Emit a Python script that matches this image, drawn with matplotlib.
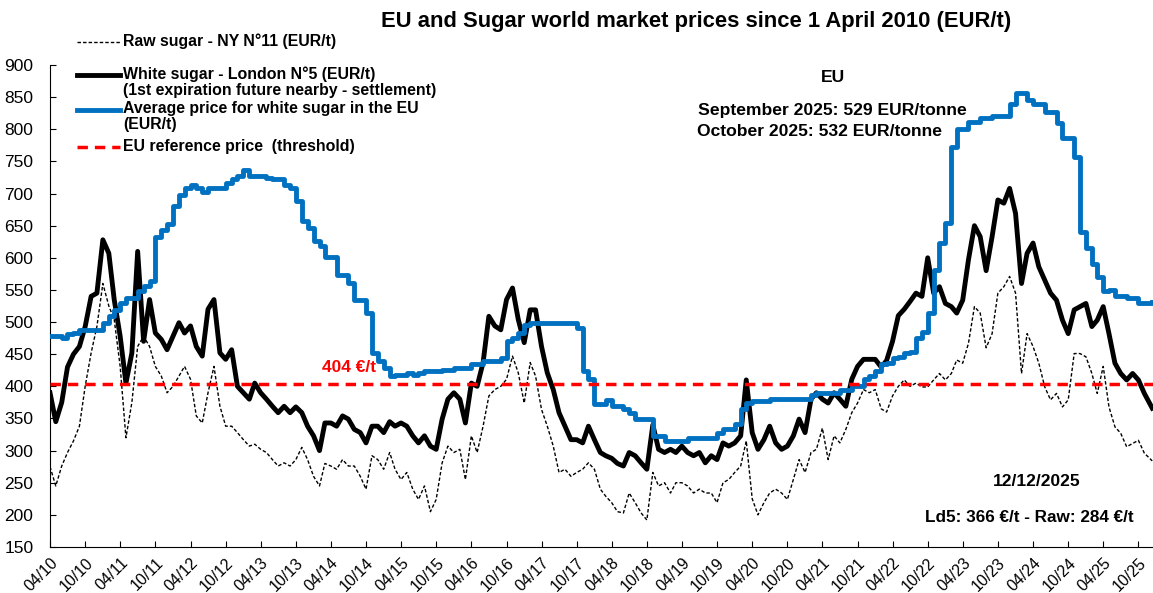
import pandas as pd
import matplotlib
matplotlib.use("Agg")
import matplotlib.pyplot as plt
import matplotlib.dates as mdates
from matplotlib.lines import Line2D

plt.rcParams["font.family"] = ["Liberation Sans", "DejaVu Sans"]

# monthly readings from April 2010, last point = 12/12/2025
dates = list(pd.date_range("2010-04-01", "2025-11-01", freq="MS")) + [pd.Timestamp("2025-12-12")]

white_sugar = [390, 345, 375, 430, 450, 462, 493, 540, 545, 628,
               607, 535, 478, 405, 452, 610, 470, 535, 483, 473,
               457, 478, 499, 483, 494, 462, 447, 520, 535, 452,
               442, 457, 400, 390, 380, 405, 390, 380, 369, 359,
               369, 359, 368, 359, 338, 323, 300, 343, 343, 338,
               354, 349, 333, 328, 312, 338, 338, 328, 345, 338,
               343, 338, 323, 312, 323, 307, 302, 349, 380, 390,
               380, 343, 405, 400, 437, 509, 494, 488, 535, 553,
               504, 468, 519, 519, 462, 421, 395, 359, 338, 317,
               317, 312, 338, 317, 297, 292, 288, 280, 276, 297,
               292, 281, 271, 340, 302, 297, 302, 297, 307, 297,
               292, 297, 281, 292, 286, 312, 307, 312, 323, 410,
               328, 302, 317, 338, 312, 302, 307, 323, 349, 328,
               380, 390, 380, 374, 390, 380, 369, 411, 431, 442,
               442, 442, 430, 440, 470, 510, 520, 532, 545, 540,
               600, 545, 555, 529, 524, 514, 534, 597, 650, 633,
               580, 633, 690, 685, 708, 669, 560, 607, 623, 586,
               565, 545, 534, 503, 482, 519, 524, 529, 493, 503,
               524, 482, 436, 420, 410, 420, 410, 389, 366]

raw_sugar = [275, 245, 276, 297, 315, 338, 400, 452, 493, 560,
             525, 504, 431, 320, 375, 462, 478, 462, 431, 416,
             390, 400, 416, 431, 411, 354, 343, 390, 431, 369,
             338, 338, 328, 317, 307, 310, 302, 297, 286, 276,
             281, 276, 286, 305, 286, 260, 245, 280, 276, 271,
             286, 276, 276, 260, 240, 292, 286, 271, 297, 271,
             255, 266, 240, 224, 245, 205, 224, 281, 307, 297,
             302, 255, 323, 297, 338, 385, 395, 400, 411, 447,
             421, 374, 437, 416, 364, 338, 307, 266, 271, 260,
             266, 271, 281, 271, 240, 229, 219, 205, 203, 234,
             219, 203, 192, 266, 245, 250, 234, 250, 250, 245,
             234, 240, 234, 234, 219, 250, 255, 266, 276, 315,
             225, 200, 219, 234, 240, 234, 224, 255, 286, 266,
             297, 302, 335, 286, 323, 312, 333, 359, 374, 395,
             390, 395, 365, 360, 385, 400, 410, 400, 405, 399,
             399, 410, 420, 410, 420, 441, 436, 467, 524, 514,
             460, 482, 545, 555, 571, 545, 420, 482, 462, 436,
             399, 379, 389, 368, 379, 451, 451, 446, 420, 389,
             431, 368, 337, 327, 306, 311, 316, 296, 284]

eu_price = [478, 478, 475, 481, 483, 487, 487, 487, 487, 499,
            509, 519, 530, 538, 538, 548, 556, 564, 633, 644,
            652, 680, 698, 709, 714, 709, 703, 709, 709, 709,
            716, 722, 727, 737, 727, 727, 727, 724, 722, 722,
            714, 709, 688, 657, 646, 626, 618, 602, 602, 574,
            574, 561, 535, 535, 514, 452, 440, 428, 416, 418,
            418, 421, 418, 421, 424, 424, 424, 426, 426, 429,
            429, 429, 434, 434, 439, 439, 439, 444, 470, 475,
            483, 496, 499, 499, 499, 499, 499, 499, 499, 499,
            491, 424, 411, 372, 372, 378, 369, 369, 364, 359,
            349, 349, 349, 323, 323, 315, 315, 315, 315, 320,
            320, 320, 320, 320, 328, 334, 334, 341, 365, 374,
            377, 377, 377, 380, 380, 380, 380, 380, 380, 380,
            387, 390, 390, 390, 390, 395, 395, 400, 400, 411,
            416, 424, 434, 436, 444, 446, 452, 454, 475, 485,
            514, 581, 623, 654, 773, 801, 801, 812, 812, 817,
            817, 820, 820, 820, 840, 856, 856, 846, 840, 840,
            827, 827, 809, 786, 786, 757, 640, 615, 590, 570,
            548, 550, 540, 540, 537, 537, 529, 529, 532]

ref_price = 404

W, H = 1153, 593


def fx(px):
    return px / W


def fy(py):
    return 1 - py / H


fig = plt.figure(figsize=(W / 100, H / 100), dpi=100)
ax = fig.add_axes([fx(50), fy(547), fx(1153) - fx(50), fy(65) - fy(547)])

raw_style = dict(color="black", lw=1.0, ls=(0, (2.5, 1.5)))
white_style = dict(color="black", lw=3.5)
eu_style = dict(color="#0070C0", lw=3.5)
ref_style = dict(color="#FF0000", lw=2.5, ls=(0, (3, 2)))

ax.plot(dates, raw_sugar, zorder=2, **raw_style)
ax.plot(dates, white_sugar, zorder=3, **white_style)
ax.step(dates, eu_price, where="post", zorder=4, **eu_style)
ax.axhline(ref_price, zorder=5, **ref_style)

ax.set_ylim(150, 900)
ax.set_yticks(range(150, 901, 50))
ax.set_xlim(pd.Timestamp("2010-04-01"), pd.Timestamp("2025-12-16"))
ax.xaxis.set_major_locator(mdates.MonthLocator(bymonth=[4, 10]))
ax.xaxis.set_major_formatter(mdates.DateFormatter("%m/%y"))
ax.tick_params(direction="in", length=4)
ax.tick_params(axis="y", labelsize=12.5, pad=12)
ax.tick_params(axis="x", labelsize=11.5, pad=6)
for lbl in ax.get_xticklabels():
    lbl.set_rotation(45)
    lbl.set_ha("right")
    lbl.set_rotation_mode("anchor")
ax.spines["top"].set_visible(False)
ax.spines["right"].set_visible(False)

fig.text(fx(696), fy(22), "EU and Sugar world market prices since 1 April 2010 (EUR/t)",
         ha="center", va="center", fontsize=15.8, fontweight="bold")

# legend drawn by hand, handle on the first line of each entry
legend_rows = [
    (42, raw_style, "Raw sugar - NY N°11 (EUR/t)"),
    (75, white_style, "White sugar - London N°5 (EUR/t)\n(1st expiration future nearby - settlement)"),
    (110, eu_style, "Average price for white sugar in the EU\n(EUR/t)"),
    (147, ref_style, "EU reference price  (threshold)"),
]
for py, style, label in legend_rows:
    fig.add_artist(Line2D([fx(77), fx(120)], [fy(py), fy(py)], transform=fig.transFigure, **style))
    fig.text(fx(123), fy(py - 8.5), label, ha="left", va="top", fontsize=11.4,
             fontweight="bold", linespacing=1.07)

fig.text(fx(833), fy(78), "EU", ha="center", va="center", fontsize=12.6, fontweight="bold")
fig.text(fx(698), fy(110), "September 2025: 529 EUR/tonne", ha="left", va="center",
         fontsize=12.6, fontweight="bold")
fig.text(fx(697), fy(132), "October 2025: 532 EUR/tonne", ha="left", va="center",
         fontsize=12.6, fontweight="bold")
fig.text(fx(1037), fy(482), "12/12/2025", ha="center", va="center", fontsize=12.5, fontweight="bold")
fig.text(fx(1029), fy(517), "Ld5: 366 €/t - Raw: 284 €/t", ha="center", va="center",
         fontsize=12.3, fontweight="bold")
fig.text(fx(322), fy(367), "404 €/t", ha="left", va="center", fontsize=12.5,
         fontweight="bold", color="#FF0000")

fig.savefig("out.png", dpi=100)
